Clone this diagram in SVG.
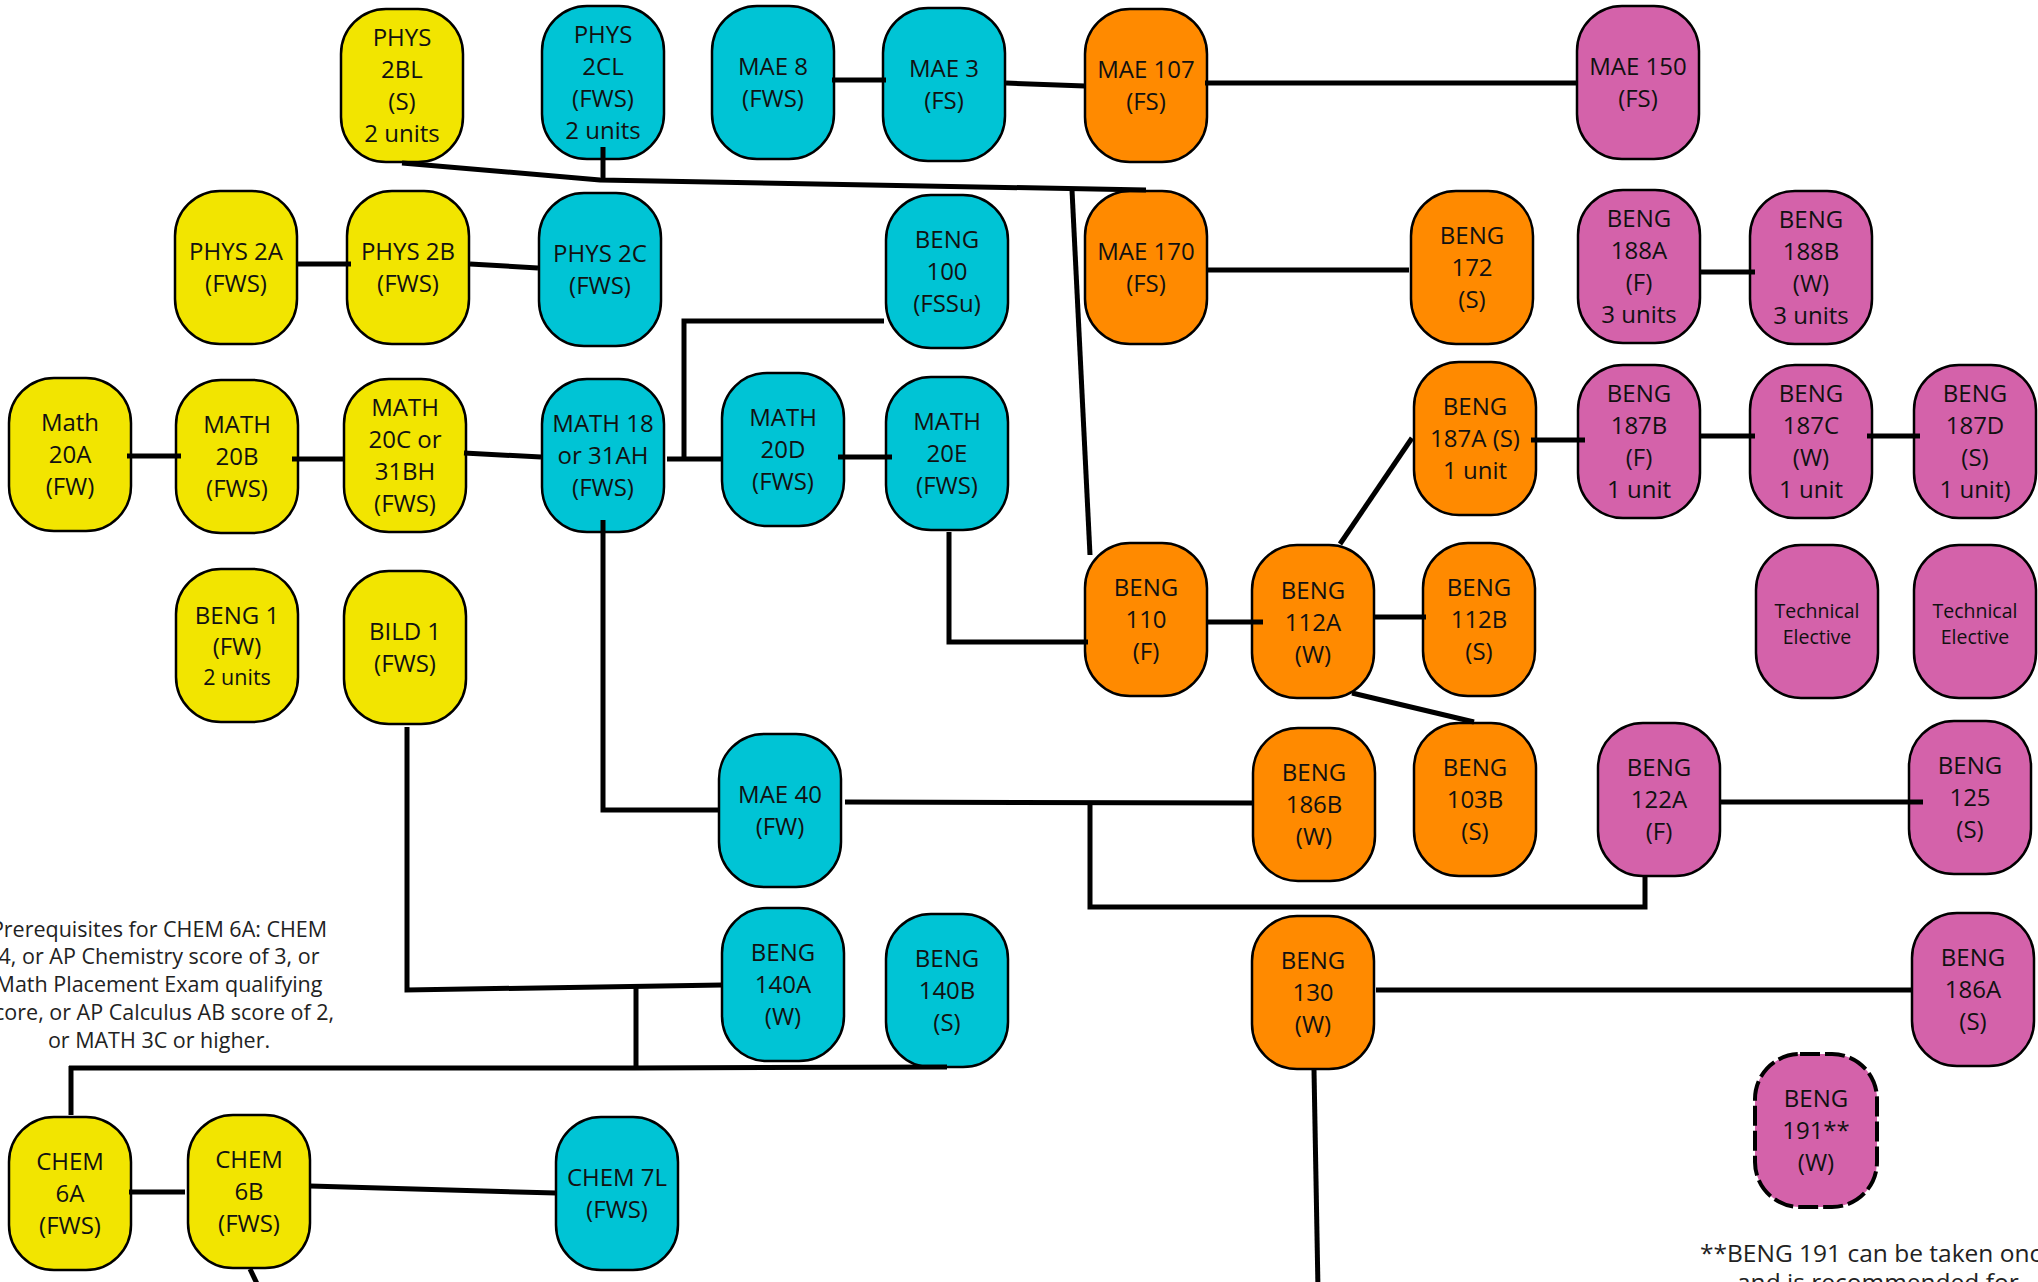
<svg xmlns="http://www.w3.org/2000/svg" width="2038" height="1282" viewBox="0 0 2038 1282">
<style>
.n rect{stroke:#000;stroke-width:2.5}
.y rect{fill:#F2E500}
.c rect{fill:#00C4D5}
.o rect{fill:#FF8A00}
.p rect{fill:#D462AA}
.n text{font-family:"Open Sans","Noto Sans",sans-serif;font-size:24px;text-anchor:middle;fill:#111}
.n text.s{font-size:21.5px}
.n text.te{font-size:19.5px}
.note{font-family:"Open Sans","Noto Sans",sans-serif;font-size:21.5px;fill:#222}
</style>
<rect width="2038" height="1282" fill="#fff"/>
<g id="nodes">
<g id="phys2bl" class="n y" transform="translate(341,9)"><rect width="122" height="153" rx="45"/><text x="61" y="36.5">PHYS</text><text x="61" y="68.5">2BL</text><text x="61" y="100.5">(S)</text><text x="61" y="132.5">2 units</text></g>
<g id="phys2cl" class="n c" transform="translate(542,6)"><rect width="122" height="153" rx="45"/><text x="61" y="36.5">PHYS</text><text x="61" y="68.5">2CL</text><text x="61" y="100.5">(FWS)</text><text x="61" y="132.5">2 units</text></g>
<g id="mae8" class="n c" transform="translate(712,6)"><rect width="122" height="153" rx="45"/><text x="61" y="68.5">MAE 8</text><text x="61" y="100.5">(FWS)</text></g>
<g id="mae3" class="n c" transform="translate(883,8)"><rect width="122" height="153" rx="45"/><text x="61" y="68.5">MAE 3</text><text x="61" y="100.5">(FS)</text></g>
<g id="mae107" class="n o" transform="translate(1085,9)"><rect width="122" height="153" rx="45"/><text x="61" y="68.5">MAE 107</text><text x="61" y="100.5">(FS)</text></g>
<g id="mae150" class="n p" transform="translate(1577,6)"><rect width="122" height="153" rx="45"/><text x="61" y="68.5">MAE 150</text><text x="61" y="100.5">(FS)</text></g>
<g id="phys2a" class="n y" transform="translate(175,191)"><rect width="122" height="153" rx="45"/><text x="61" y="68.5">PHYS 2A</text><text x="61" y="100.5">(FWS)</text></g>
<g id="phys2b" class="n y" transform="translate(347,191)"><rect width="122" height="153" rx="45"/><text x="61" y="68.5">PHYS 2B</text><text x="61" y="100.5">(FWS)</text></g>
<g id="phys2c" class="n c" transform="translate(539,193)"><rect width="122" height="153" rx="45"/><text x="61" y="68.5">PHYS 2C</text><text x="61" y="100.5">(FWS)</text></g>
<g id="beng100" class="n c" transform="translate(886,195)"><rect width="122" height="153" rx="45"/><text x="61" y="52.5">BENG</text><text x="61" y="84.5">100</text><text x="61" y="116.5">(FSSu)</text></g>
<g id="mae170" class="n o" transform="translate(1085,191)"><rect width="122" height="153" rx="45"/><text x="61" y="68.5">MAE 170</text><text x="61" y="100.5">(FS)</text></g>
<g id="beng172" class="n o" transform="translate(1411,191)"><rect width="122" height="153" rx="45"/><text x="61" y="52.5">BENG</text><text x="61" y="84.5">172</text><text x="61" y="116.5">(S)</text></g>
<g id="beng188a" class="n p" transform="translate(1578,190)"><rect width="122" height="153" rx="45"/><text x="61" y="36.5">BENG</text><text x="61" y="68.5">188A</text><text x="61" y="100.5">(F)</text><text x="61" y="132.5">3 units</text></g>
<g id="beng188b" class="n p" transform="translate(1750,191)"><rect width="122" height="153" rx="45"/><text x="61" y="36.5">BENG</text><text x="61" y="68.5">188B</text><text x="61" y="100.5">(W)</text><text x="61" y="132.5">3 units</text></g>
<g id="math20a" class="n y" transform="translate(9,378)"><rect width="122" height="153" rx="45"/><text x="61" y="52.5">Math</text><text x="61" y="84.5">20A</text><text x="61" y="116.5">(FW)</text></g>
<g id="math20b" class="n y" transform="translate(176,380)"><rect width="122" height="153" rx="45"/><text x="61" y="52.5">MATH</text><text x="61" y="84.5">20B</text><text x="61" y="116.5">(FWS)</text></g>
<g id="math20c" class="n y" transform="translate(344,379)"><rect width="122" height="153" rx="45"/><text x="61" y="36.5">MATH</text><text x="61" y="68.5">20C or</text><text x="61" y="100.5">31BH</text><text x="61" y="132.5">(FWS)</text></g>
<g id="math18" class="n c" transform="translate(542,379)"><rect width="122" height="153" rx="45"/><text x="61" y="52.5">MATH 18</text><text x="61" y="84.5">or 31AH</text><text x="61" y="116.5">(FWS)</text></g>
<g id="math20d" class="n c" transform="translate(722,373)"><rect width="122" height="153" rx="45"/><text x="61" y="52.5">MATH</text><text x="61" y="84.5">20D</text><text x="61" y="116.5">(FWS)</text></g>
<g id="math20e" class="n c" transform="translate(886,377)"><rect width="122" height="153" rx="45"/><text x="61" y="52.5">MATH</text><text x="61" y="84.5">20E</text><text x="61" y="116.5">(FWS)</text></g>
<g id="beng187a" class="n o" transform="translate(1414,362)"><rect width="122" height="153" rx="45"/><text x="61" y="52.5">BENG</text><text x="61" y="84.5">187A (S)</text><text x="61" y="116.5">1 unit</text></g>
<g id="beng187b" class="n p" transform="translate(1578,365)"><rect width="122" height="153" rx="45"/><text x="61" y="36.5">BENG</text><text x="61" y="68.5">187B</text><text x="61" y="100.5">(F)</text><text x="61" y="132.5">1 unit</text></g>
<g id="beng187c" class="n p" transform="translate(1750,365)"><rect width="122" height="153" rx="45"/><text x="61" y="36.5">BENG</text><text x="61" y="68.5">187C</text><text x="61" y="100.5">(W)</text><text x="61" y="132.5">1 unit</text></g>
<g id="beng187d" class="n p" transform="translate(1914,365)"><rect width="122" height="153" rx="45"/><text x="61" y="36.5">BENG</text><text x="61" y="68.5">187D</text><text x="61" y="100.5">(S)</text><text x="61" y="132.5">1 unit)</text></g>
<g id="beng1" class="n y" transform="translate(176,569)"><rect width="122" height="153" rx="45"/><text x="61" y="54.5">BENG 1</text><text x="61" y="85.5">(FW)</text><text class="s" x="61" y="115.5">2 units</text></g>
<g id="bild1" class="n y" transform="translate(344,571)"><rect width="122" height="153" rx="45"/><text x="61" y="68.5">BILD 1</text><text x="61" y="100.5">(FWS)</text></g>
<g id="beng110" class="n o" transform="translate(1085,543)"><rect width="122" height="153" rx="45"/><text x="61" y="52.5">BENG</text><text x="61" y="84.5">110</text><text x="61" y="116.5">(F)</text></g>
<g id="beng112a" class="n o" transform="translate(1252,545)"><rect width="122" height="153" rx="45"/><text x="61" y="53.5">BENG</text><text x="61" y="85.5">112A</text><text x="61" y="117.5">(W)</text></g>
<g id="beng112b" class="n o" transform="translate(1423,543)"><rect width="112" height="153" rx="45"/><text x="56" y="52.5">BENG</text><text x="56" y="84.5">112B</text><text x="56" y="116.5">(S)</text></g>
<g id="te1" class="n p" transform="translate(1756,545)"><rect width="122" height="153" rx="45"/><text class="te" x="61" y="73">Technical</text><text class="te" x="61" y="99">Elective</text></g>
<g id="te2" class="n p" transform="translate(1914,545)"><rect width="122" height="153" rx="45"/><text class="te" x="61" y="73">Technical</text><text class="te" x="61" y="99">Elective</text></g>
<g id="mae40" class="n c" transform="translate(719,734)"><rect width="122" height="153" rx="45"/><text x="61" y="68.5">MAE 40</text><text x="61" y="100.5">(FW)</text></g>
<g id="beng186b" class="n o" transform="translate(1253,728)"><rect width="122" height="153" rx="45"/><text x="61" y="52.5">BENG</text><text x="61" y="84.5">186B</text><text x="61" y="116.5">(W)</text></g>
<g id="beng103b" class="n o" transform="translate(1414,723)"><rect width="122" height="153" rx="45"/><text x="61" y="52.5">BENG</text><text x="61" y="84.5">103B</text><text x="61" y="116.5">(S)</text></g>
<g id="beng122a" class="n p" transform="translate(1598,723)"><rect width="122" height="153" rx="45"/><text x="61" y="52.5">BENG</text><text x="61" y="84.5">122A</text><text x="61" y="116.5">(F)</text></g>
<g id="beng125" class="n p" transform="translate(1909,721)"><rect width="122" height="153" rx="45"/><text x="61" y="52.5">BENG</text><text x="61" y="84.5">125</text><text x="61" y="116.5">(S)</text></g>
<g id="beng140a" class="n c" transform="translate(722,908)"><rect width="122" height="153" rx="45"/><text x="61" y="52.5">BENG</text><text x="61" y="84.5">140A</text><text x="61" y="116.5">(W)</text></g>
<g id="beng140b" class="n c" transform="translate(886,914)"><rect width="122" height="153" rx="45"/><text x="61" y="52.5">BENG</text><text x="61" y="84.5">140B</text><text x="61" y="116.5">(S)</text></g>
<g id="beng130" class="n o" transform="translate(1252,916)"><rect width="122" height="153" rx="45"/><text x="61" y="52.5">BENG</text><text x="61" y="84.5">130</text><text x="61" y="116.5">(W)</text></g>
<g id="beng186a" class="n p" transform="translate(1912,913)"><rect width="122" height="153" rx="45"/><text x="61" y="52.5">BENG</text><text x="61" y="84.5">186A</text><text x="61" y="116.5">(S)</text></g>
<g id="beng191" class="n p" transform="translate(1755,1054)"><rect width="122" height="153" rx="45" style="stroke-width:4;stroke-dasharray:20 5"/><text x="61" y="52.5">BENG</text><text x="61" y="84.5">191**</text><text x="61" y="116.5">(W)</text></g>
<g id="chem6a" class="n y" transform="translate(9,1117)"><rect width="122" height="153" rx="45"/><text x="61" y="52.5">CHEM</text><text x="61" y="84.5">6A</text><text x="61" y="116.5">(FWS)</text></g>
<g id="chem6b" class="n y" transform="translate(188,1115)"><rect width="122" height="153" rx="45"/><text x="61" y="52.5">CHEM</text><text x="61" y="84.5">6B</text><text x="61" y="116.5">(FWS)</text></g>
<g id="chem7l" class="n c" transform="translate(556,1117)"><rect width="122" height="153" rx="45"/><text x="61" y="68.5">CHEM 7L</text><text x="61" y="100.5">(FWS)</text></g>
</g>
<g id="connectors" fill="none" stroke="#000" stroke-width="5" stroke-linejoin="miter">
<polyline points="402,163 600,180 1146,190"/>
<line x1="603" y1="147" x2="603" y2="182"/>
<line x1="1072" y1="190" x2="1090" y2="555"/>
<line x1="832" y1="80" x2="886" y2="80"/>
<line x1="1006" y1="83" x2="1085" y2="86"/>
<line x1="1205" y1="83" x2="1577" y2="83"/>
<line x1="297" y1="264" x2="351" y2="264"/>
<line x1="470" y1="264" x2="538" y2="268"/>
<polyline points="884,321 684,321 684,459"/>
<line x1="1207" y1="270" x2="1409" y2="270"/>
<line x1="1699" y1="272" x2="1755" y2="272"/>
<line x1="127" y1="456" x2="181" y2="456"/>
<line x1="292" y1="459" x2="345" y2="459"/>
<line x1="464" y1="453" x2="541" y2="457"/>
<line x1="667" y1="459" x2="722" y2="459"/>
<line x1="838" y1="457" x2="892" y2="457"/>
<polyline points="949,532 949,642 1088,642"/>
<line x1="1208" y1="622" x2="1263" y2="622"/>
<line x1="1340" y1="544" x2="1412" y2="438"/>
<line x1="1531" y1="440" x2="1585" y2="440"/>
<line x1="1699" y1="436" x2="1755" y2="436"/>
<line x1="1867" y1="436" x2="1920" y2="436"/>
<line x1="1373" y1="617" x2="1426" y2="617"/>
<line x1="1352" y1="693" x2="1474" y2="722"/>
<polyline points="603,520 603,810 719,810"/>
<line x1="845" y1="802" x2="1253" y2="803"/>
<polyline points="1090,803 1090,907 1645,907 1645,877"/>
<line x1="1719" y1="802" x2="1923" y2="802"/>
<polyline points="407,727 407,990 722,985"/>
<line x1="636" y1="988" x2="636" y2="1070"/>
<polyline points="69,1068 634,1068 947,1067"/>
<line x1="71" y1="1066" x2="71" y2="1115"/>
<line x1="129" y1="1192" x2="185" y2="1192"/>
<line x1="310" y1="1186" x2="556" y2="1193"/>
<line x1="250" y1="1269" x2="260" y2="1290"/>
<line x1="1376" y1="990" x2="1912" y2="990"/>
<line x1="1314" y1="1070" x2="1318" y2="1290"/>
</g>
<g id="notes">
<text class="note" text-anchor="middle" x="159"><tspan x="159" y="937">Prerequisites for CHEM 6A: CHEM</tspan><tspan x="159" y="964">4, or AP Chemistry score of 3, or</tspan><tspan x="159" y="992">Math Placement Exam qualifying</tspan><tspan x="159" y="1020">score, or AP Calculus AB score of 2,</tspan><tspan x="159" y="1048">or MATH 3C or higher.</tspan></text>
<text class="note" style="font-size:24.5px"><tspan x="1700" y="1262">**BENG 191 can be taken once</tspan><tspan x="1737" y="1291">and is recommended for</tspan></text>
</g>
</svg>
